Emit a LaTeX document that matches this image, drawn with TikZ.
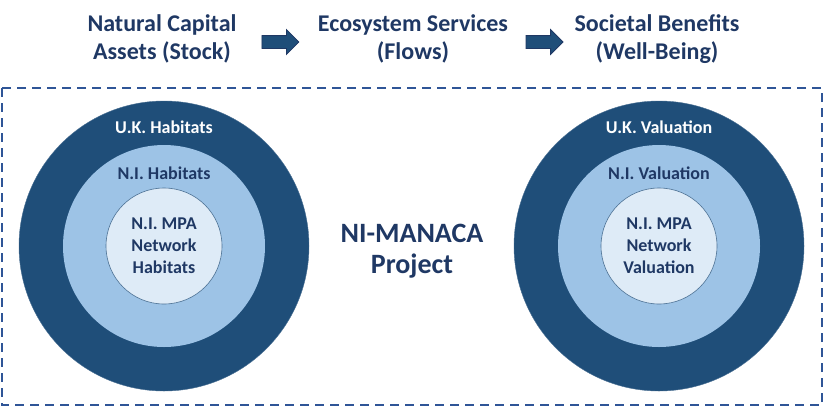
\documentclass[tikz,border=0pt]{standalone}
\usepackage{fontspec}
\setmainfont{Carlito}
\usepackage{tikz}
\usetikzlibrary{shapes.arrows,positioning}
\usepackage{xcolor}
\definecolor{navy}{HTML}{1F4E79}
\definecolor{midblue}{HTML}{9DC3E6}
\definecolor{paleblue}{HTML}{DEEBF7}
\definecolor{inkblue}{HTML}{1F3864}
\definecolor{dashblue}{HTML}{2F5597}

\begin{document}
\begin{tikzpicture}[x=1pt,y=-1pt,
    headtext/.style={font=\fontsize{24}{28.5}\selectfont\bfseries, text=inkblue, align=center},
    blockarrow/.style={single arrow, fill=navy, draw=inkblue, line width=0.8pt,
        minimum height=37pt, single arrow head extend=6pt, inner xsep=0pt, inner ysep=6pt},
    ring/.style={circle, inner sep=0pt},
    ringlabel/.style={font=\fontsize{18}{22}\selectfont\bfseries, text=inkblue, align=center}]
    \useasboundingbox (0,0) rectangle (824,408);

    % 标题
    \node[headtext] (assets) at (162,39) {Natural Capital\\Assets (Stock)};
    \node[headtext] (flows) at (413,39) {Ecosystem Services\\(Flows)};
    \node[headtext] (benefits) at (657,39) {Societal Benefits\\(Well-Being)};
    \path (assets) -- (flows) node[midway, yshift=-3pt, blockarrow] (arrowA) {};
    \path (flows) -- (benefits) node[midway, yshift=-3pt, blockarrow] (arrowB) {};

    % 虚线框
    \draw[dashblue, line width=2.5pt, dash pattern=on 9pt off 6pt] (2,88) rectangle (822,405);

    % 左边：栖息地
    \node[ring, fill=navy, draw=navy!80, minimum size=290pt] (ukhab) at (164,246) {};
    \node[ring, fill=midblue, minimum size=202pt] (nihab) at (164,246) {};
    \node[ring, fill=paleblue, draw=navy!80, line width=0.6pt, minimum size=116pt,
        ringlabel] (mpahab) at (164,246) {N.I. MPA\\Network\\Habitats};
    \node[ringlabel, text=white] (ukhablabel) at (164,127) {U.K. Habitats};
    \node[ringlabel] (nihablabel) at (164,173) {N.I. Habitats};

    % 右边：估值
    \node[ring, fill=navy, draw=navy!80, minimum size=290pt] (ukval) at (659,246) {};
    \node[ring, fill=midblue, minimum size=202pt] (nival) at (659,246) {};
    \node[ring, fill=paleblue, draw=navy!80, line width=0.6pt, minimum size=116pt,
        ringlabel] (mpaval) at (659,246) {N.I. MPA\\Network\\Valuation};
    \node[ringlabel, text=white] (ukvallabel) at (659,127) {U.K. Valuation};
    \node[ringlabel] (nivallabel) at (659,173) {N.I. Valuation};

    % 中间
    \node[font=\fontsize{28}{31}\selectfont\bfseries, text=inkblue, align=center]
        (project) at (412,251) {NI-MANACA\\Project};
\end{tikzpicture}
\end{document}
